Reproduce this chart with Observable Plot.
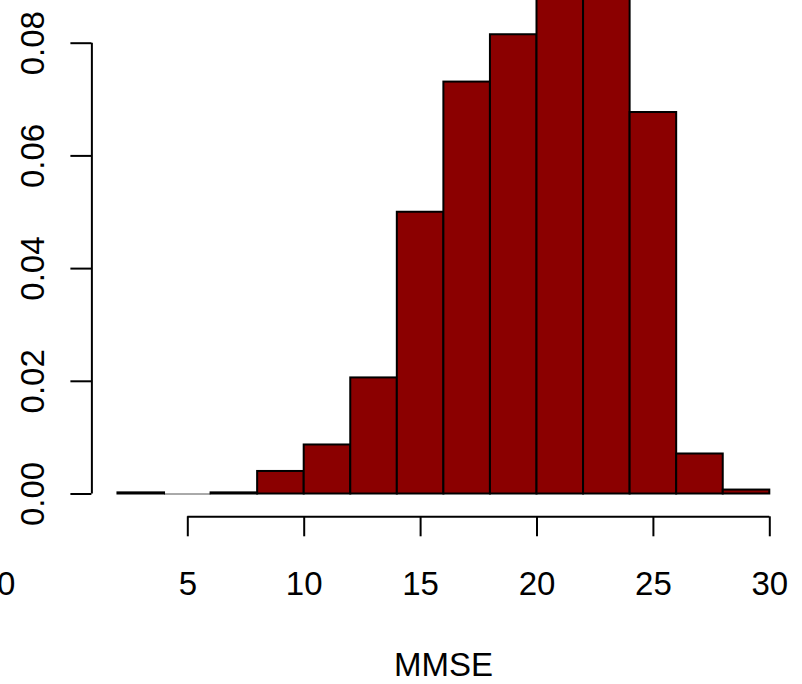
<!DOCTYPE html>
<html><head><meta charset="utf-8">
<script src="https://cdn.jsdelivr.net/npm/d3@7"></script>
<script src="https://cdn.jsdelivr.net/npm/@observablehq/plot@0.6"></script>
<style>html,body{margin:0;padding:0;background:#fff;overflow:hidden}</style>
</head><body><div id="chart"></div>
<script>
// Histogram of MMSE (density scale), bins of width 2
const binStarts = [2, 4, 6, 8, 10, 12, 14, 16, 18, 20, 22, 24, 26, 28];
const binWidth = 2;
const density = [0.0002, 0.0000, 0.0002, 0.0040, 0.0087, 0.0206, 0.0500, 0.0731, 0.0815, 0.0890, 0.1010, 0.0677, 0.0071, 0.0007];
const xTicks = [5, 10, 15, 20, 25, 30];
const yTicks = [0.00, 0.02, 0.04, 0.06, 0.08];
const xLabel = "MMSE";
// partial tick label of the neighbouring panel, cut by the left edge
const neighborLabels = [{x: -3.2, label: "30"}];

const bins = binStarts.map((s, i) => ({x0: s, x1: s + binWidth, density: density[i]}));
const emptyBins = bins.filter(d => d.density === 0);

// R convention: plot region extends 4% beyond the data range
const xFirst = binStarts[0], xLast = binStarts[binStarts.length - 1] + binWidth;
const xUsrMin = xFirst - 0.04 * (xLast - xFirst);
const yUsrMin = -0.04 * d3.max(density);

const font = "'Liberation Sans', Arial, Helvetica, sans-serif";
const fs = 33;

const chart = Plot.plot({
  width: 802,
  height: 684,
  marginLeft: 91.4,
  marginRight: 7.5,
  marginTop: 0,
  marginBottom: 167.7,
  x: {domain: [5, 30], range: [187.3, 769.3]},
  y: {domain: [0, 0.08], range: [493.5, 42.7]},
  style: {fontFamily: font, fontSize: fs + "px", color: "black", background: "white"},
  marks: [
    Plot.ruleY(emptyBins, {x1: "x0", x2: "x1", y: 0, stroke: "#555", strokeWidth: 1}),
    Plot.rectY(bins, {x1: "x0", x2: "x1", y: "density", fill: "#8B0000", stroke: "black", strokeWidth: 2}),
    // axis lines (R style: from first to last tick)
    Plot.ruleY([yUsrMin], {x1: xTicks[0], x2: xTicks[xTicks.length - 1], stroke: "black", strokeWidth: 2}),
    Plot.ruleX([xUsrMin], {y1: yTicks[0], y2: yTicks[yTicks.length - 1], stroke: "black", strokeWidth: 2}),
    Plot.axisX({ticks: xTicks, anchor: "bottom", tickSize: 20, tickPadding: 35, strokeWidth: 2, fontSize: fs, tickFormat: d => String(d), label: null}),
    Plot.axisY({ticks: yTicks, anchor: "left", tickSize: 21, tickPadding: 27, tickRotate: -90, strokeWidth: 2, fontSize: fs, tickFormat: d3.format(".2f"), label: null}),
    Plot.text(neighborLabels, {x: "x", text: "label", frameAnchor: "bottom", dy: 55, lineAnchor: "top", fontSize: fs, fill: "black"}),
    Plot.text([xLabel], {text: d => d, frameAnchor: "bottom", lineAnchor: "bottom", dy: 159.5, fontSize: fs, fill: "black"})
  ]
});
document.getElementById("chart").appendChild(chart);
</script>
</body></html>
